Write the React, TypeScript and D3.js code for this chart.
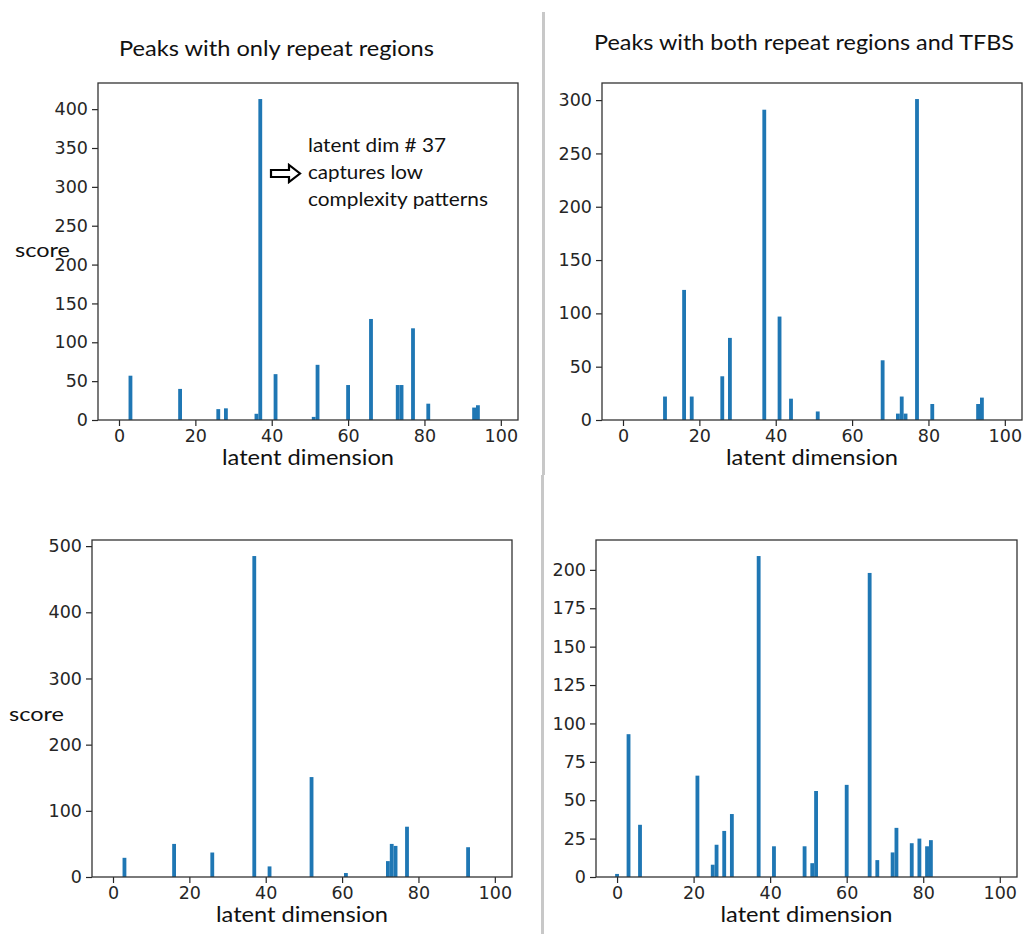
import { useEffect, useRef } from "react";
import * as d3 from "d3";

const repeatOnlyDims = [3, 16, 26, 28, 36, 37, 41, 51, 52, 60, 66, 73, 74, 77, 81, 93, 94];
const repeatOnlyScores = [57, 40, 14, 15, 8, 413, 59, 4, 71, 45, 130, 45, 45, 118, 21, 16, 19];

const repeatTfbsDims = [11, 16, 18, 26, 28, 37, 41, 44, 51, 68, 72, 73, 74, 77, 81, 93, 94];
const repeatTfbsScores = [22, 122, 22, 41, 77, 291, 97, 20, 8, 56, 6, 22, 6, 301, 15, 15, 21];

const lowerLeftDims = [3, 16, 26, 37, 41, 52, 61, 72, 73, 74, 77, 93];
const lowerLeftScores = [29, 50, 37, 485, 16, 151, 6, 24, 50, 47, 76, 45];

const lowerRightDims = [0, 3, 6, 21, 25, 26, 28, 30, 37, 41, 49, 51, 52, 60, 66, 68, 72, 73, 77, 79, 81, 82];
const lowerRightScores = [2, 93, 34, 66, 8, 21, 30, 41, 209, 20, 20, 9, 56, 60, 198, 11, 16, 32, 22, 25, 20, 24];

const xTicks = [0, 20, 40, 60, 80, 100];
const yTicksTopLeft = [0, 50, 100, 150, 200, 250, 300, 350, 400];
const yTicksTopRight = [0, 50, 100, 150, 200, 250, 300];
const yTicksBottomLeft = [0, 100, 200, 300, 400, 500];
const yTicksBottomRight = [0, 25, 50, 75, 100, 125, 150, 175, 200];

const BAR = "#1f77b4";
const INK = "#262626";
const LABEL_FONT = "Lato, 'Open Sans', sans-serif";
const TICK_FONT = "'DejaVu Sans', sans-serif";

type PanelProps = {
  left: number;
  top: number;
  width: number;
  height: number;
  dims: number[];
  scores: number[];
  yTicks: number[];
  scoreY?: number;
};

function Panel({ left, top, width, height, dims, scores, yTicks, scoreY }: PanelProps) {
  const ref = useRef<SVGGElement | null>(null);

  useEffect(() => {
    const node = ref.current;
    if (!node) return;
    const g = d3.select(node);
    g.selectAll("*").remove();

    // matplotlib-style 5% margins around bars of width 1
    const x = d3.scaleLinear().domain([-5.5, 104.5]).range([0, width]);
    const maxScore = d3.max(scores) ?? 1;
    const y = d3.scaleLinear().domain([0, maxScore * 1.05]).range([height, 0]);
    const bw = x(1) - x(0);

    g.append("g")
      .selectAll("rect")
      .data(dims)
      .join("rect")
      .attr("x", (d) => x(d) - bw / 2)
      .attr("y", (_, i) => y(scores[i]))
      .attr("width", bw)
      .attr("height", (_, i) => height - y(scores[i]))
      .attr("fill", BAR);

    const yAxis = g
      .append("g")
      .call(d3.axisLeft(y).tickValues(yTicks).tickSize(6).tickPadding(4).tickSizeOuter(0));
    const xAxis = g
      .append("g")
      .attr("transform", `translate(0,${height})`)
      .call(d3.axisBottom(x).tickValues(xTicks).tickSize(6).tickPadding(4).tickSizeOuter(0));

    [xAxis, yAxis].forEach((axis) => {
      axis.select(".domain").remove();
      axis.selectAll("line").attr("stroke", INK).attr("stroke-width", 1.2);
      axis
        .selectAll("text")
        .attr("fill", INK)
        .attr("font-family", TICK_FONT)
        .attr("font-size", 17.5);
    });

    g.append("rect")
      .attr("x", 0)
      .attr("y", 0)
      .attr("width", width)
      .attr("height", height)
      .attr("fill", "none")
      .attr("stroke", "#333")
      .attr("stroke-width", 1.3);
  }, [width, height, dims, scores, yTicks]);

  return (
    <g transform={`translate(${left},${top})`}>
      <g ref={ref} />
      <text
        x={width / 2}
        y={height + 45}
        textAnchor="middle"
        fontFamily={LABEL_FONT}
        fontSize={21}
        fill="#111"
        textLength={172}
        lengthAdjust="spacingAndGlyphs"
      >
        latent dimension
      </text>
      {scoreY !== undefined ? (
        <text
          x={-83}
          y={scoreY}
          fontFamily={LABEL_FONT}
          fontSize={20}
          fill="#111"
          textLength={55}
          lengthAdjust="spacingAndGlyphs"
        >
          score
        </text>
      ) : null}
    </g>
  );
}

export default function App() {
  return (
    <div style={{ position: "absolute", left: 0, top: 0 }}>
      <svg width={1023} height={934} style={{ display: "block", background: "#fff" }}>
        <line x1={543.5} x2={543.5} y1={12} y2={475} stroke="#c8c8c8" strokeWidth={3} />
        <line x1={542.5} x2={542.5} y1={475} y2={934} stroke="#c8c8c8" strokeWidth={3} />

        <text
          x={119}
          y={56}
          fontFamily={LABEL_FONT}
          fontSize={22}
          fill="#111"
          textLength={315}
          lengthAdjust="spacingAndGlyphs"
        >
          Peaks with only repeat regions
        </text>
        <text
          x={594}
          y={50}
          fontFamily={LABEL_FONT}
          fontSize={22}
          fill="#111"
          textLength={420}
          lengthAdjust="spacingAndGlyphs"
        >
          Peaks with both repeat regions and TFBS
        </text>

        <Panel
          left={98}
          top={83}
          width={420}
          height={337}
          dims={repeatOnlyDims}
          scores={repeatOnlyScores}
          yTicks={yTicksTopLeft}
          scoreY={174}
        />
        <Panel
          left={602}
          top={83}
          width={420}
          height={337}
          dims={repeatTfbsDims}
          scores={repeatTfbsScores}
          yTicks={yTicksTopRight}
        />
        <Panel
          left={92}
          top={540}
          width={420}
          height={337}
          dims={lowerLeftDims}
          scores={lowerLeftScores}
          yTicks={yTicksBottomLeft}
          scoreY={181}
        />
        <Panel
          left={596}
          top={540}
          width={421}
          height={337}
          dims={lowerRightDims}
          scores={lowerRightScores}
          yTicks={yTicksBottomRight}
        />

        {/* annotation for the top-left panel */}
        <path
          d="M271,170 L289,170 L289,165 L300,173.5 L289,182 L289,177 L271,177 Z"
          fill="#fff"
          stroke="#000"
          strokeWidth={2.2}
          strokeLinejoin="miter"
        />
        <g fontFamily={LABEL_FONT} fontSize={19} fill="#111">
          <text x={308} y={152} textLength={138} lengthAdjust="spacingAndGlyphs">
            latent dim # 37
          </text>
          <text x={308} y={179} textLength={115} lengthAdjust="spacingAndGlyphs">
            captures low
          </text>
          <text x={308} y={206} textLength={180} lengthAdjust="spacingAndGlyphs">
            complexity patterns
          </text>
        </g>
      </svg>
    </div>
  );
}
